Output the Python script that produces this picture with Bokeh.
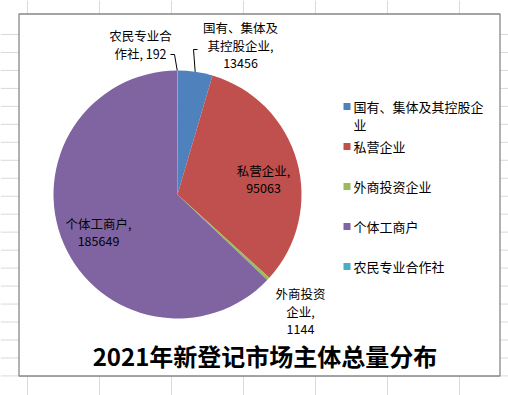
import numpy as np
from bokeh.plotting import figure
from bokeh.models import Range1d
from bokeh.core.properties import value
from bokeh.embed import file_html
from bokeh.resources import INLINE

# ---- data ----
categories = ["国有、集体及其控股企业", "私营企业", "外商投资企业", "个体工商户", "农民专业合作社"]
counts = [13456, 95063, 1144, 185649, 192]
colors = ["#4F81BD", "#C0504D", "#9BBB59", "#8064A2", "#4BACC6"]
title_text = "2021年新登记市场主体总量分布"

# ---- layout (picture pixel coordinates) ----
W, H = 508, 395
FONT = "Noto Sans CJK SC"


def Y(py):
    return H - np.asarray(py, dtype=float)


p = figure(width=W, height=H, output_backend="svg", toolbar_location=None,
           x_range=Range1d(0, W), y_range=Range1d(0, H),
           min_border=0, background_fill_color="white", border_fill_color="white")
p.axis.visible = False
p.grid.visible = False
p.outline_line_color = None

# spreadsheet grid behind the chart
gx = 27 + 72 * np.arange(7)
p.segment(x0=gx, y0=Y(0), x1=gx, y1=Y(395), line_color="#d9d9d9", line_width=1)
gy = 34 + 17.97 * np.arange(20)
p.segment(x0=0, y0=Y(gy), x1=508, y1=Y(gy), line_color="#d9d9d9", line_width=1)

# chart area
p.quad(left=18.5, right=499.5, top=Y(13.5), bottom=Y(375.5),
       fill_color="white", line_color="#878787", line_width=1.3)

# pie
cx, cy, r = 177, 194, 124
vals = np.array(counts, dtype=float)
frac = vals / vals.sum()
cum_after = np.cumsum(frac)
cum_before = cum_after - frac
start = np.pi / 2 - cum_after * 2 * np.pi
end = np.pi / 2 - cum_before * 2 * np.pi
p.wedge(x=cx, y=Y(cy), radius=r, start_angle=start, end_angle=end,
        fill_color=colors, line_color=None)

# data labels
def label_lines(name, val, splits, inline):
    lines = []
    pos = 0
    for s in splits:
        lines.append(name[pos:pos + s])
        pos += s
    lines[-1] = lines[-1] + ","
    if inline:
        lines[-1] = lines[-1] + " " + str(val)
    else:
        lines.append(str(val))
    return lines

label_layout = [
    # splits, inline value, center x, line y's
    ([6, 5], False, 240, [27, 45, 62]),
    ([4], False, 263, [170, 187]),
    ([4, 2], False, 300, [293, 311, 328]),
    ([5], False, 98, [223, 240]),
    ([5, 2], True, 140, [35, 53]),
]
tx, ty, tt = [], [], []
for name, val, (splits, inline, lx, lys) in zip(categories, counts, label_layout):
    for line, ly in zip(label_lines(name, val, splits, inline), lys):
        tx.append(lx)
        ty.append(float(Y(ly)))
        tt.append(line)
p.text(x=tx, y=ty, text=tt, text_align="center", text_baseline="middle",
       text_font=value(FONT), text_font_size="12.5px", text_color="#000000")

# leader lines (to slice mid-points on the edge)
mid = np.pi / 2 - (cum_before + frac / 2) * 2 * np.pi
ex = cx + r * np.cos(mid)
ey = cy - r * np.sin(mid)
p.line(x=[197, 193, ex[0]], y=Y([49, 49, ey[0]]), line_color="#000000", line_width=1)
p.line(x=[170, 174, ex[4]], y=Y([54, 54, ey[4]]), line_color="#000000", line_width=1)

# legend
leg_rows = [106, 146, 186, 226, 266]
p.rect(x=346.5, y=Y(leg_rows), width=7, height=7,
       fill_color=colors, line_color=None)
lx, ly, lt = [], [], []
for name, row in zip(categories, leg_rows):
    parts = [name[i:i + 10] for i in range(0, len(name), 10)]
    for k, part in enumerate(parts):
        lx.append(353)
        ly.append(float(Y(row + 18 * k)))
        lt.append(part)
p.text(x=lx, y=ly, text=lt, text_align="left", text_baseline="middle",
       text_font=value(FONT), text_font_size="13px", text_color="#000000")

# title
p.text(x=[264.5], y=Y([355]), text=[title_text], text_align="center", text_baseline="middle",
       text_font=value(FONT), text_font_size="24px", text_font_style="bold", text_color="#000000")

open("out.html", "w").write(file_html(p, INLINE))
